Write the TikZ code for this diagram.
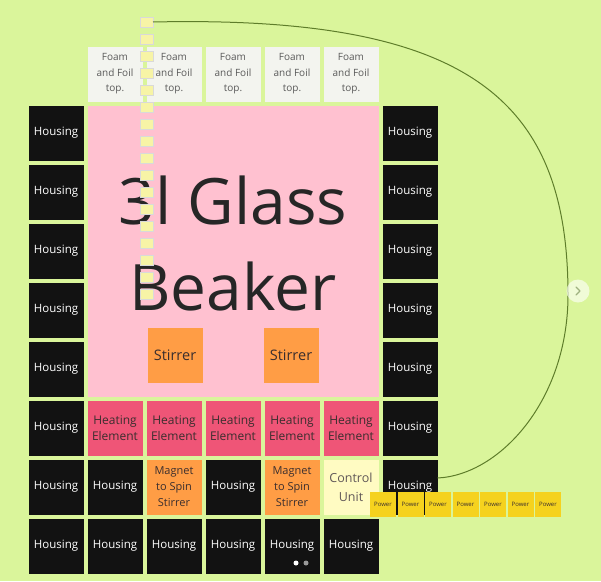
\documentclass[tikz,border=0pt]{standalone}
\usepackage{fontspec}
\setmainfont{Open Sans}
\usepackage{xcolor}
\usetikzlibrary{positioning}

\definecolor{boardgreen}{HTML}{DAF59B}
\definecolor{housingblack}{HTML}{121212}
\definecolor{foamwhite}{HTML}{F3F4EF}
\definecolor{foamtext}{HTML}{5A5A5A}
\definecolor{beakerpink}{HTML}{FFC1D0}
\definecolor{heaterred}{HTML}{EF5577}
\definecolor{magnetorange}{HTML}{FF9D45}
\definecolor{controlyellow}{HTML}{FFFBC2}
\definecolor{poweryellow}{HTML}{F5D21E}
\definecolor{tinyyellow}{HTML}{F7F4A6}
\definecolor{wireolive}{HTML}{5E7D2A}
\definecolor{darktext}{HTML}{3A2E2E}

\begin{document}
\begin{tikzpicture}[x=1pt, y=-1pt,
    node distance=4pt,
    cell/.style={rectangle, minimum width=55pt, minimum height=55pt,
                 inner sep=0pt, outer sep=0pt, align=center},
    housing/.style={cell, fill=housingblack, text=white,
                    font=\fontsize{11.5}{13}\selectfont},
    foam/.style={cell, fill=foamwhite, text=foamtext,
                 font=\fontsize{10}{15.5}\selectfont},
    heater/.style={cell, fill=heaterred, text=darktext,
                   font=\fontsize{12}{16}\selectfont},
    magnet/.style={cell, fill=magnetorange, text=darktext,
                   font=\fontsize{11}{16}\selectfont},
    stirrer/.style={cell, fill=magnetorange, text=darktext,
                    font=\fontsize{14.5}{16}\selectfont},
    control/.style={cell, fill=controlyellow, text=darktext!80,
                    font=\fontsize{12.5}{19}\selectfont},
    power/.style={rectangle, minimum width=26pt, minimum height=25pt,
                  inner sep=0pt, outer sep=0pt, fill=poweryellow,
                  text=darktext, font=\fontsize{6}{7}\selectfont},
    tiny/.style={rectangle, minimum width=13pt, minimum height=10pt,
                 inner sep=0pt, outer sep=0pt, fill=tinyyellow,
                 draw=black!15, line width=0.3pt},
    wire/.style={draw=wireolive, line width=1pt}
]

\path[use as bounding box, fill=boardgreen] (0,0) rectangle (601,581);

% === BEAKER ===
\node[cell, fill=beakerpink, minimum width=291pt, minimum height=291pt,
      label={[yshift=8pt, align=center, text=black!85,
              font=\fontsize{64}{86}\selectfont]center:3l Glass\\Beaker}]
      (beaker) at (233,251) {};
\node[stirrer] (s1) at (175,355) {Stirrer};
\node[stirrer] (s2) at (291,355) {Stirrer};

% === LID ===
\node[foam] (f1) at (115,74) {Foam\\and Foil\\top.};
\node[foam, right=of f1] (f2) {Foam\\and Foil\\top.};
\node[foam, right=of f2] (f3) {Foam\\and Foil\\top.};
\node[foam, right=of f3] (f4) {Foam\\and Foil\\top.};
\node[foam, right=of f4] (f5) {Foam\\and Foil\\top.};

% === LEFT HOUSING ===
\node[housing] (hl1) at (56,133) {Housing};
\node[housing, below=of hl1] (hl2) {Housing};
\node[housing, below=of hl2] (hl3) {Housing};
\node[housing, below=of hl3] (hl4) {Housing};
\node[housing, below=of hl4] (hl5) {Housing};
\node[housing, below=of hl5] (hl6) {Housing};
\node[housing, below=of hl6] (hl7) {Housing};
\node[housing, below=of hl7] (hl8) {Housing};

% === RIGHT HOUSING ===
\node[housing] (hr1) at (410,133) {Housing};
\node[housing, below=of hr1] (hr2) {Housing};
\node[housing, below=of hr2] (hr3) {Housing};
\node[housing, below=of hr3] (hr4) {Housing};
\node[housing, below=of hr4] (hr5) {Housing};
\node[housing, below=of hr5] (hr6) {Housing};
\node[housing, below=of hr6] (hr7) {Housing};

% === HEATING ===
\node[heater] (he1) at (115,428) {Heating\\Element};
\node[heater, right=of he1] (he2) {Heating\\Element};
\node[heater, right=of he2] (he3) {Heating\\Element};
\node[heater, right=of he3] (he4) {Heating\\Element};
\node[heater, right=of he4] (he5) {Heating\\Element};

% === DRIVE ===
\node[housing] (hb1) at (115,487) {Housing};
\node[magnet, right=of hb1] (m1) {Magnet\\to Spin\\Stirrer};
\node[housing, right=of m1] (hb2) {Housing};
\node[magnet, right=of hb2] (m2) {Magnet\\to Spin\\Stirrer};
\node[control, right=of m2] (cu) {Control\\Unit};

% === BASE ===
\node[housing] (hb3) at (115,546) {Housing};
\node[housing, right=of hb3] (hb4) {Housing};
\node[housing, right=of hb4] (hb5) {Housing};
\node[housing, right=of hb5] (hb6) {Housing};
\node[housing, right=of hb6] (hb7) {Housing};

% === POWER ===
\node[power] (p1) at (383,504.5) {Power};
\node[power, right=1.5pt of p1] (p2) {Power};
\node[power, right=1.5pt of p2] (p3) {Power};
\node[power, right=1.5pt of p3] (p4) {Power};
\node[power, right=1.5pt of p4] (p5) {Power};
\node[power, right=1.5pt of p5] (p6) {Power};
\node[power, right=1.5pt of p6] (p7) {Power};

% === NOTES COLUMN ===
\node[tiny] (t1) at (146.5,22) {};
\node[tiny, below=7pt of t1] (t2) {};
\node[tiny, below=7pt of t2] (t3) {};
\node[tiny, below=7pt of t3] (t4) {};
\node[tiny, below=7pt of t4] (t5) {};
\node[tiny, below=7pt of t5] (t6) {};
\node[tiny, below=7pt of t6] (t7) {};
\node[tiny, below=7pt of t7] (t8) {};
\node[tiny, below=7pt of t8] (t9) {};
\node[tiny, below=7pt of t9] (t10) {};
\node[tiny, below=7pt of t10] (t11) {};
\node[tiny, below=7pt of t11] (t12) {};
\node[tiny, below=7pt of t12] (t13) {};
\node[tiny, below=7pt of t13] (t14) {};
\node[tiny, below=7pt of t14] (t15) {};
\node[tiny, below=7pt of t15] (t16) {};
\node[tiny, below=7pt of t16] (t17) {};

% === WIRE ===
\draw[wire] (t1.east) .. controls (470,15) and (568,100) .. (568,295)
    .. controls (568,400) and (500,475) .. ([yshift=9pt]hr7.east);

% === VIEWER ===
\node[circle, minimum size=23pt, inner sep=0pt, fill=white, fill opacity=0.6]
    (nextbtn) at (578,291) {};
\draw[draw=wireolive!60, line width=1.3pt, line cap=round, line join=round]
    ([xshift=-2pt,yshift=4pt]nextbtn.center) -- ([xshift=2pt]nextbtn.center)
    -- ([xshift=-2pt,yshift=-4pt]nextbtn.center);
\node[circle, minimum size=5pt, inner sep=0pt, fill=white] (dot1) at (296,563) {};
\node[circle, minimum size=5pt, inner sep=0pt, fill=black!40] (dot2) at (306,563) {};

\end{tikzpicture}
\end{document}
